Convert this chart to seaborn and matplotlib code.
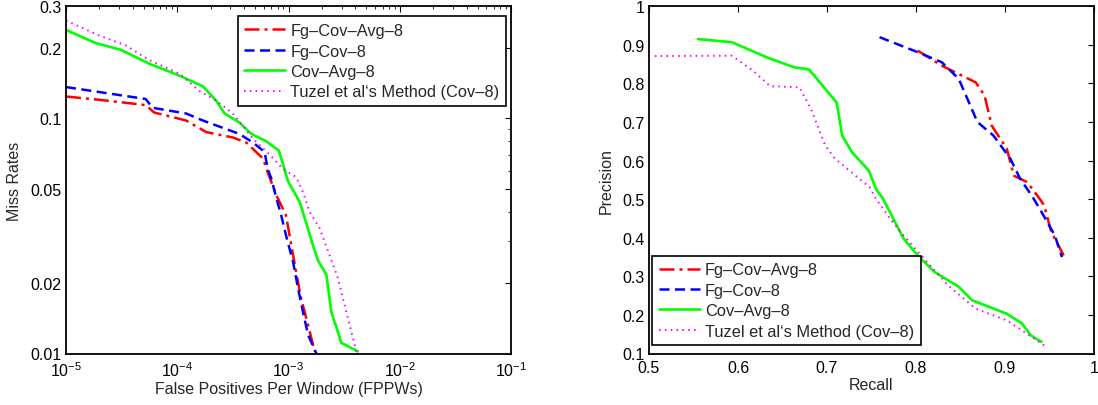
import numpy as np
import pandas as pd
import matplotlib
matplotlib.use("Agg")
import matplotlib.pyplot as plt
import seaborn as sns
from matplotlib.ticker import LogLocator, FixedLocator, NullFormatter, FixedFormatter

# ---------------- data (left: miss rate vs FPPW) ----------------
labels = ["Fg\u2013Cov\u2013Avg\u20138", "Fg\u2013Cov\u20138", "Cov\u2013Avg\u20138",
          "Tuzel et al\u2018s Method (Cov\u20138)"]

fg_cov_avg_fppw = [1e-5, 2.0e-5, 5.2e-5, 6.2e-5, 1.2e-4, 1.82e-4, 3.16e-4, 4.17e-4, 5.9e-4, 6.5e-4,
                   7.8e-4, 9.5e-4, 1.06e-3, 1.17e-3, 1.30e-3, 1.50e-3, 1.72e-3]
fg_cov_avg_mr = [0.124, 0.120, 0.114, 0.106, 0.098, 0.0875, 0.083, 0.079, 0.0675, 0.059,
                 0.047, 0.0387, 0.0289, 0.0222, 0.0171, 0.0132, 0.0102]

fg_cov_fppw = [1e-5, 5.2e-5, 6.0e-5, 1.2e-4, 1.7e-4, 3.6e-4, 4.8e-4, 6.1e-4, 6.5e-4, 7.0e-4,
               7.8e-4, 8.6e-4, 9.5e-4, 1.10e-3, 1.22e-3, 1.35e-3, 1.50e-3, 1.78e-3]
fg_cov_mr = [0.136, 0.121, 0.111, 0.105, 0.098, 0.086, 0.079, 0.072, 0.061, 0.0555,
             0.0456, 0.0387, 0.0318, 0.0245, 0.0189, 0.0150, 0.0120, 0.0100]

cov_avg_fppw = [1e-5, 1.86e-5, 3.1e-5, 5.6e-5, 1.05e-4, 1.7e-4, 2.24e-4, 2.66e-4, 3.63e-4, 4.62e-4,
                6.3e-4, 8.2e-4, 9.9e-4, 1.26e-3, 1.66e-3, 1.84e-3, 2.19e-3, 2.43e-3, 2.99e-3, 4.2e-3]
cov_avg_mr = [0.238, 0.209, 0.196, 0.171, 0.152, 0.137, 0.119, 0.105, 0.096, 0.086,
              0.080, 0.073, 0.054, 0.0442, 0.0289, 0.0249, 0.0216, 0.0150, 0.0111, 0.0102]

tuzel_fppw = [1e-5, 2.0e-5, 3.5e-5, 5.6e-5, 1.05e-4, 1.58e-4, 2.24e-4, 3.16e-4, 4.8e-4, 6.8e-4,
              8.9e-4, 1.17e-3, 1.35e-3, 1.55e-3, 1.91e-3, 2.34e-3, 2.79e-3, 3.31e-3, 3.8e-3, 4.07e-3]
tuzel_mr = [0.261, 0.225, 0.204, 0.177, 0.155, 0.131, 0.119, 0.105, 0.082, 0.070,
            0.061, 0.0563, 0.0486, 0.040, 0.034, 0.0262, 0.0208, 0.0150, 0.0116, 0.0102]

# ---------------- data (right: precision vs recall) ----------------
fg_cov_avg_rec = [0.802, 0.829, 0.844, 0.867, 0.877, 0.885, 0.902, 0.910, 0.925, 0.939,
                  0.944, 0.952, 0.966]
fg_cov_avg_prec = [0.885, 0.846, 0.829, 0.803, 0.769, 0.691, 0.631, 0.561, 0.544, 0.501,
                   0.484, 0.415, 0.354]

fg_cov_rec = [0.759, 0.802, 0.829, 0.848, 0.869, 0.887, 0.906, 0.917, 0.931, 0.941, 0.956, 0.964]
fg_cov_prec = [0.920, 0.881, 0.855, 0.812, 0.700, 0.665, 0.605, 0.553, 0.506, 0.467, 0.406, 0.350]

cov_avg_rec = [0.555, 0.593, 0.632, 0.663, 0.680, 0.711, 0.717, 0.728, 0.747, 0.755, 0.763,
               0.786, 0.802, 0.821, 0.848, 0.863, 0.902, 0.919, 0.929, 0.941]
cov_avg_prec = [0.915, 0.907, 0.868, 0.842, 0.836, 0.750, 0.665, 0.622, 0.574, 0.527, 0.501,
                0.398, 0.354, 0.311, 0.273, 0.238, 0.203, 0.178, 0.147, 0.130]

tuzel_rec = [0.5066, 0.593, 0.617, 0.636, 0.669, 0.682, 0.698, 0.709, 0.732, 0.748, 0.755,
             0.771, 0.786, 0.809, 0.836, 0.867, 0.902, 0.919, 0.944]
tuzel_prec = [0.871, 0.872, 0.833, 0.793, 0.790, 0.734, 0.639, 0.605, 0.561, 0.531, 0.501,
              0.449, 0.406, 0.346, 0.277, 0.216, 0.186, 0.160, 0.121]

left_ticks_y = [0.01, 0.02, 0.05, 0.1, 0.2, 0.3]
left_ticks_y_lbl = ["0.01", "0.02", "0.05", "0.1", "0.2", "0.3"]
right_ticks_x = [0.5, 0.6, 0.7, 0.8, 0.9, 1.0]
right_ticks_x_lbl = ["0.5", "0.6", "0.7", "0.8", "0.9", "1"]
right_ticks_y = [0.1, 0.2, 0.3, 0.4, 0.5, 0.6, 0.7, 0.8, 0.9, 1.0]
right_ticks_y_lbl = ["0.1", "0.2", "0.3", "0.4", "0.5", "0.6", "0.7", "0.8", "0.9", "1"]

# ---------------- style ----------------
sns.set_style("white")
plt.rcParams["font.family"] = ["Liberation Sans", "DejaVu Sans"]
plt.rcParams["mathtext.fontset"] = "custom"
plt.rcParams["mathtext.rm"] = "Liberation Sans"
plt.rcParams["mathtext.it"] = "Liberation Sans:italic"
plt.rcParams["axes.edgecolor"] = "black"
plt.rcParams["xtick.direction"] = "in"
plt.rcParams["ytick.direction"] = "in"

colors = ["#ff0000", "#0000ff", "#00ff00", "#ff00ff"]
styles = [(0, (6, 2, 1.2, 2)), (0, (4, 2.2)), "-", (0, (0.8, 2.2))]
lws = [1.8, 1.8, 1.9, 1.4]

W, H = 1098, 406
fig = plt.figure(figsize=(W / 100, H / 100), dpi=100)
ax_top, ax_bot = 7.3, 354.5
axL = fig.add_axes([66 / W, 1 - ax_bot / H, (511 - 66) / W, (ax_bot - ax_top) / H])
axR = fig.add_axes([649 / W, 1 - ax_bot / H, (1094 - 649) / W, (ax_bot - ax_top) / H])

left_series = [(fg_cov_avg_fppw, fg_cov_avg_mr), (fg_cov_fppw, fg_cov_mr),
               (cov_avg_fppw, cov_avg_mr), (tuzel_fppw, tuzel_mr)]
right_series = [(fg_cov_avg_rec, fg_cov_avg_prec), (fg_cov_rec, fg_cov_prec),
                (cov_avg_rec, cov_avg_prec), (tuzel_rec, tuzel_prec)]

for ax, series in ((axL, left_series), (axR, right_series)):
    for (xs, ys), lab, c, ls, lw in zip(series, labels, colors, styles, lws):
        df = pd.DataFrame({"x": xs, "y": ys})
        sns.lineplot(data=df, x="x", y="y", ax=ax, sort=False, estimator=None,
                     color=c, linestyle=ls, linewidth=lw, label=lab)

TICK_FS = 11.5
LABEL_FS = 11.5
LEG_FS = 11.8

# left axes
axL.set_xscale("log")
axL.set_yscale("log")
axL.set_xlim(1e-5, 1e-1)
axL.set_ylim(0.01, 0.3)
axL.xaxis.set_major_locator(LogLocator(base=10, numticks=10))
axL.xaxis.set_minor_locator(LogLocator(base=10, subs=np.arange(2, 10), numticks=20))
axL.xaxis.set_minor_formatter(NullFormatter())
axL.yaxis.set_major_locator(FixedLocator(left_ticks_y))
axL.yaxis.set_major_formatter(FixedFormatter(left_ticks_y_lbl))
axL.yaxis.set_minor_locator(FixedLocator([0.03, 0.04, 0.06, 0.07, 0.08, 0.09]))
axL.yaxis.set_minor_formatter(NullFormatter())
axL.set_xlabel("False Positives Per Window (FPPWs)", fontsize=LABEL_FS, color="#262626", labelpad=1)
axL.set_ylabel("Miss Rates", fontsize=LABEL_FS, color="#262626", labelpad=6)

# right axes
axR.set_xlim(0.5, 1.0)
axR.set_ylim(0.1, 1.0)
axR.xaxis.set_major_locator(FixedLocator(right_ticks_x))
axR.xaxis.set_major_formatter(FixedFormatter(right_ticks_x_lbl))
axR.yaxis.set_major_locator(FixedLocator(right_ticks_y))
axR.yaxis.set_major_formatter(FixedFormatter(right_ticks_y_lbl))
axR.set_xlabel("Recall", fontsize=LABEL_FS, color="#262626", labelpad=1)
axR.set_ylabel("Precision", fontsize=LABEL_FS, color="#262626", labelpad=6)

for ax in (axL, axR):
    ax.tick_params(which="both", top=True, right=True, direction="in", colors="black",
                   labelsize=TICK_FS, labelcolor="black")
    ax.tick_params(which="major", length=4.5, width=0.8)
    ax.tick_params(which="minor", length=2.2, width=0.6)
    ax.tick_params(axis="x", which="major", pad=5)
    ax.tick_params(axis="y", which="major", pad=3)
    for s in ax.spines.values():
        s.set_visible(True)
        s.set_color("black")
        s.set_linewidth(1.3)

legkw = dict(fontsize=LEG_FS, frameon=True, fancybox=False, edgecolor="black", framealpha=1,
             handlelength=2.5, handletextpad=0.3, labelspacing=0.33, borderpad=0.42,
             borderaxespad=0, bbox_transform=fig.transFigure, loc="upper left")
legL = axL.legend(bbox_to_anchor=(237.5 / W, 1 - 17.3 / H), **legkw)
legR = axR.legend(bbox_to_anchor=(652 / W, 1 - 256.5 / H), **legkw)
for leg in (legL, legR):
    leg.get_frame().set_linewidth(1.2)
    for t in leg.get_texts():
        t.set_color("#262626")

fig.savefig("out.png", dpi=100)
